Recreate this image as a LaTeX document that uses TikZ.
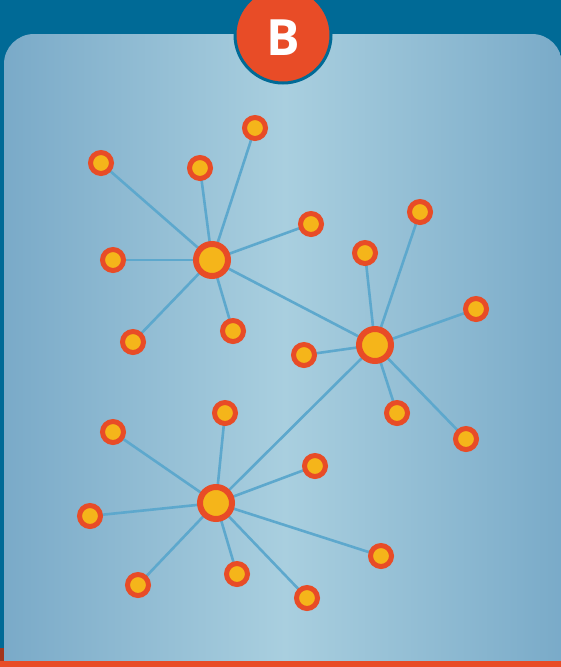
\documentclass[tikz,border=0pt]{standalone}
\usepackage{fontspec}
\setsansfont{Open Sans}
\definecolor{darkblue}{HTML}{006A96}
\definecolor{ored}{HTML}{E84C27}
\definecolor{yel}{HTML}{F5B51A}
\definecolor{edgeblue}{HTML}{5DA8CD}
\definecolor{panL}{HTML}{7AAAC8}
\definecolor{panM}{HTML}{A9CFDF}
\definecolor{panR}{HTML}{79AAC8}
\definecolor{brick}{HTML}{A3361C}
\tikzset{
  hub/.style={circle,fill=yel,draw=ored,line width=6pt,minimum size=32pt,inner sep=0pt},
  leaf/.style={circle,fill=yel,draw=ored,line width=5pt,minimum size=21pt,inner sep=0pt},
  link/.style={draw=edgeblue,line width=2.6pt}
}
\begin{document}
\begin{tikzpicture}[x=1pt,y=-1pt]
\useasboundingbox (0,0) rectangle (560,667);
\fill[darkblue] (-6,-6) rectangle (566,673);
\shade[left color=panL,right color=panR,middle color=panM]
  (4,667) -- (4,64) arc[start angle=180,end angle=270,radius=30] -- (532,34)
  arc[start angle=270,end angle=360,radius=30] -- (566,64) -- (566,667) -- cycle;
\fill[brick] (-6,648) rectangle (4,661);
\fill[ored] (-6,661) rectangle (566,673);
% badge
\node[circle,fill=ored,draw=darkblue,line width=3pt,minimum size=96pt,inner sep=0pt] (badge) at (283,35) {};
\node[text=white,font=\sffamily\bfseries\fontsize{50}{50}\selectfont] (blabel) at (283,38) {B};
% hubs
\coordinate (h1) at (212,260);
\coordinate (h2) at (375,345);
\coordinate (h3) at (216,503);
% leaves
\foreach \n/\x/\y in {a1/101/163,a2/200/168,a3/255/128,a4/311/224,a5/113/260,a6/133/342,a7/233/331,
  b1/365/253,b2/420/212,b3/476/309,b4/304/355,b5/397/413,b6/466/439,
  c1/113/432,c2/225/413,c3/315/466,c4/90/516,c5/138/585,c6/237/574,c7/307/598,c8/381/556}
  {\coordinate (\n) at (\x,\y);}
% links
\foreach \n in {a1,a2,a3,a4,a5,a6,a7} {\draw[link] (h1) -- (\n);}
\foreach \n in {b1,b2,b3,b4,b5,b6} {\draw[link] (h2) -- (\n);}
\foreach \n in {c1,c2,c3,c4,c5,c6,c7,c8} {\draw[link] (h3) -- (\n);}
\draw[link] (h1) -- (h2);
\draw[link] (h2) -- (h3);
% nodes
\foreach \n in {h1,h2,h3} {\node[hub] (n\n) at (\n) {};}
\foreach \n in {a1,a2,a3,a4,a5,a6,a7,b1,b2,b3,b4,b5,b6,c1,c2,c3,c4,c5,c6,c7,c8}
  {\node[leaf] (n\n) at (\n) {};}
\end{tikzpicture}
\end{document}
